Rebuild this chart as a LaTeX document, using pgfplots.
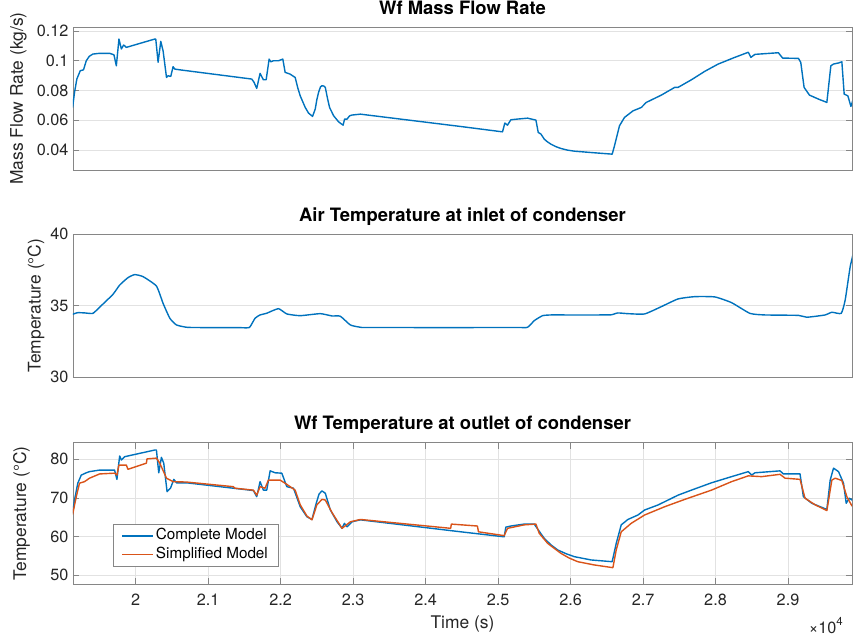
\documentclass[border=0pt]{standalone}
\usepackage{fontspec}
\setmainfont{TeX Gyre Heros}
\usepackage{pgfplots}
\pgfplotsset{compat=1.18}
\definecolor{mblue}{RGB}{0,114,189}
\definecolor{morange}{RGB}{217,83,25}
\definecolor{axgray}{RGB}{134,134,134}
\definecolor{gridgray}{RGB}{226,226,226}
\definecolor{tickcol}{RGB}{38,38,38}
\newcommand{\tickfont}{\fontsize{16.3}{19}\selectfont}
\newcommand{\labfont}{\fontsize{17.5}{20}\selectfont}
\newcommand{\titfont}{\fontsize{18.5}{21}\selectfont\bfseries}
\newcommand{\legfont}{\fontsize{15.3}{18}\selectfont}
\pgfplotsset{
  mystyle/.style={
    width=779bp, scale only axis,
    xmin=19135, xmax=29883,
    scaled x ticks=false, scaled y ticks=false,
    axis line style={draw=axgray, line width=0.6bp},
    tick style={draw=axgray, line width=0.6bp},
    major tick length=6bp,
    tick align=inside,
    grid style={draw=gridgray, line width=0.6bp},
    ticklabel style={font=\tickfont, text=tickcol},
    /pgf/number format/assume math mode=true,
    title style={font=\titfont, at={(0.5,1)}, anchor=base, yshift=7bp, text=black},
    label style={font=\labfont, text=tickcol},
    yticklabel style={xshift=-1bp},
    every axis plot/.append style={line width=1.4bp, line join=round},
  }
}
\begin{document}
\begin{tikzpicture}
\useasboundingbox (-73bp,-52.7bp) rectangle (780bp,584.3bp);
% ---------- plot 1
\begin{axis}[mystyle, at={(0bp,414.3bp)}, anchor=south west, height=142.7bp,
  ymin=0.02655, ymax=0.1225,
  xtick=\empty,
  ytick={0.04,0.06,0.08,0.1,0.12}, yticklabels={0.04,0.06,0.08,0.1,0.12},
  ymajorgrids,
  title={Wf Mass Flow Rate},
  ylabel={Mass Flow Rate (kg/s)},
  ylabel style={at={(axis description cs:-0.070,0.5)}, anchor=center},
]
\addplot[mblue] coordinates {
(19130,0.0686)(19156,0.0787)(19188,0.0877)(19235,0.0933)(19280,0.0939)(19318,0.1000)(19360,0.1030)(19409,0.1045)(19500,0.1050)(19640,0.1050)(19700,0.1040)(19733,0.0966)(19769,0.1146)(19802,0.1079)(19834,0.1106)(19871,0.1090)(20263,0.1146)(20277,0.1146)(20309,0.0990)(20346,0.1130)(20378,0.1067)(20425,0.0888)(20447,0.0899)(20484,0.0895)(20516,0.0960)(20540,0.0944)(20609,0.0939)(21601,0.0877)(21633,0.0855)(21670,0.0814)(21716,0.0915)(21762,0.0872)(21800,0.0872)(21841,0.1011)(21864,0.0993)(21900,0.1000)(21969,0.1000)(22030,0.1011)(22062,0.0922)(22131,0.0910)(22200,0.0888)(22235,0.0820)(22270,0.0764)(22339,0.0686)(22385,0.0648)(22440,0.0626)(22477,0.0675)(22500,0.0740)(22523,0.0787)(22550,0.0825)(22570,0.0832)(22595,0.0830)(22616,0.0821)(22645,0.0750)(22675,0.0686)(22731,0.0630)(22800,0.0589)(22861,0.0567)(22883,0.0608)(22916,0.0608)(22952,0.0630)(22985,0.0635)(23100,0.0641)(24484,0.0558)(25061,0.0522)(25093,0.0581)(25130,0.0567)(25176,0.0603)(25269,0.0608)(25407,0.0614)(25522,0.0601)(25554,0.0518)(25591,0.0507)(25637,0.0473)(25680,0.0455)(25730,0.0439)(25800,0.0422)(25868,0.0410)(25960,0.0399)(26053,0.0392)(26283,0.0383)(26574,0.0372)(26606,0.0428)(26675,0.0563)(26744,0.0619)(26861,0.0663)(26976,0.0686)(27045,0.0720)(27252,0.0769)(27437,0.0821)(27483,0.0821)(27667,0.0872)(27852,0.0929)(28037,0.0978)(28267,0.1023)(28452,0.1057)(28488,0.1023)(28544,0.1043)(28867,0.1054)(28926,0.1018)(29144,0.1016)(29176,0.0989)(29222,0.0821)(29296,0.0769)(29421,0.0742)(29536,0.0720)(29591,0.0966)(29628,0.0978)(29697,0.0985)(29743,0.0993)(29775,0.0776)(29826,0.0764)(29868,0.0693)(29914,0.0764)
};
\end{axis}
% ---------- plot 2
\begin{axis}[mystyle, at={(0bp,207bp)}, anchor=south west, height=143bp,
  ymin=30, ymax=40,
  xtick=\empty,
  ytick={30,35,40},
  ymajorgrids,
  title={Air Temperature at inlet of condenser},
  ylabel={Temperature (°C)},
  ylabel style={at={(axis description cs:-0.0475,0.5)}, anchor=center},
]
\addplot[mblue, smooth, tension=0.3] coordinates {
(19130,34.41)(19201,34.52)(19300,34.50)(19409,34.47)(19502,34.9)(19686,35.8)(19779,36.45)(19894,36.97)(19986,37.18)(20101,37.04)(20286,36.38)(20378,35.17)(20471,34.13)(20563,33.66)(20701,33.5)(20850,33.48)(21450,33.47)(21568,33.48)(21647,34.13)(21716,34.36)(21808,34.48)(21969,34.8)(22085,34.43)(22270,34.31)(22546,34.45)(22708,34.29)(22823,34.27)(22962,33.66)(23100,33.5)(23250,33.48)(25250,33.48)(25407,33.5)(25499,33.96)(25614,34.31)(25730,34.36)(25900,34.36)(26400,34.36)(26560,34.37)(26652,34.5)(26791,34.45)(27021,34.43)(27252,34.94)(27483,35.48)(27713,35.64)(27990,35.62)(28221,35.22)(28475,34.47)(28682,34.36)(29144,34.33)(29259,34.2)(29513,34.36)(29605,34.55)(29734,34.47)(29789,35.41)(29858,37.73)(29918,39.02)
};
\end{axis}
% ---------- plot 3
\begin{axis}[mystyle, name=ax3, at={(0bp,0bp)}, anchor=south west, height=141.6bp,
  ymin=47.59, ymax=84.3,
  xtick={20000,21000,22000,23000,24000,25000,26000,27000,28000,29000},
  xticklabels={2,2.1,2.2,2.3,2.4,2.5,2.6,2.7,2.8,2.9},
  xticklabel style={yshift=-6bp},
  ytick={50,60,70,80},
  xmajorgrids, ymajorgrids,
  title={Wf Temperature at outlet of condenser},
  xlabel={Time (s)},
  xlabel style={at={(axis description cs:0.5,0)}, anchor=base, yshift=-43.7bp},
  ylabel={Temperature (°C)},
  ylabel style={at={(axis description cs:-0.0661,0.5)}, anchor=center},
  legend style={at={(0.0517,0.124)}, anchor=south west, draw=axgray, fill=white,
    line width=0.6bp, inner xsep=8bp, inner ysep=2.5bp, row sep=0bp,
    nodes={inner sep=2bp, text height=11bp, text depth=3.5bp},
    font=\legfont, text=black},
  legend cell align=left,
  legend image code/.code={\draw[#1, line width=1.4bp] (0bp,0bp) -- (31bp,0bp);},
]
\addplot[mblue] coordinates {
(19130,66.0)(19156,69.45)(19201,73.8)(19249,75.9)(19318,76.5)(19363,76.8)(19502,77.2)(19709,77.2)(19741,74.8)(19779,80.86)(19802,79.8)(19848,80.67)(20263,82.4)(20286,82.4)(20318,76.5)(20355,80.5)(20387,79.0)(20433,71.6)(20480,72.5)(20526,74.8)(20563,73.9)(20701,73.9)(21624,71.9)(21670,70.3)(21716,74.2)(21762,72.0)(21808,72.0)(21855,77.0)(21924,76.5)(22016,76.4)(22085,72.9)(22177,72.5)(22270,67.7)(22362,65.1)(22432,64.4)(22491,68.6)(22530,71.0)(22570,71.8)(22616,71.2)(22685,66.9)(22778,63.8)(22847,62.1)(22879,63.4)(22916,62.5)(22985,63.8)(23100,64.3)(24484,61.2)(25084,59.9)(25107,62.4)(25176,62.7)(25361,63.2)(25499,63.2)(25554,61.7)(25637,59.5)(25730,57.8)(25822,56.5)(25940,55.5)(26053,54.75)(26283,53.9)(26574,53.45)(26630,58.2)(26699,63.0)(26791,64.4)(26929,65.55)(27021,66.85)(27206,68.15)(27483,70.7)(27667,72.0)(27944,73.9)(28221,75.5)(28452,76.8)(28498,75.9)(28544,76.5)(28890,77.0)(28936,76.2)(29166,76.2)(29212,70.3)(29328,68.6)(29536,67.0)(29582,74.6)(29628,77.7)(29697,76.8)(29766,73.8)(29803,68.6)(29845,69.9)(29882,69.45)(29914,70.3)
};
\addlegendentry{Complete Model}
\addplot[morange] coordinates {
(19130,65.7)(19180,70.3)(19225,73.8)(19294,74.2)(19363,75.1)(19502,76.2)(19709,76.4)(19741,75.9)(19769,78.5)(19871,78.5)(19893,77.4)(20148,79.0)(20156,80.1)(20286,80.3)(20332,79.0)(20425,75.1)(20516,74.2)(20701,74.1)(21347,72.9)(21370,72.5)(21624,72.0)(21670,70.7)(21716,72.9)(21785,72.5)(21831,74.6)(21993,74.6)(22085,73.5)(22200,72.0)(22270,68.2)(22362,65.3)(22432,64.3)(22500,68.2)(22570,69.6)(22616,69.45)(22708,66.2)(22847,62.1)(22962,63.8)(23100,64.4)(24346,62.1)(24355,63.2)(24715,62.7)(24729,61.2)(25084,60.2)(25130,62.1)(25361,63.0)(25522,63.2)(25568,60.8)(25684,58.2)(25868,55.6)(25980,54.4)(26099,53.45)(26329,52.6)(26584,51.9)(26630,56.5)(26699,61.2)(26837,63.4)(27021,65.55)(27298,67.7)(27575,69.6)(27944,72.0)(28221,74.2)(28452,75.7)(28636,75.5)(28890,76.1)(28959,75.1)(29166,74.8)(29235,69.9)(29374,68.2)(29536,66.7)(29605,74.6)(29651,75.1)(29743,74.5)(29812,70.3)(29882,67.9)(29914,68.1)
};
\addlegendentry{Simplified Model}
\end{axis}
\node[anchor=base east, inner sep=0pt, font=\tickfont, text=tickcol] at ([xshift=-9bp, yshift=-48.7bp]ax3.south east) {×10\raisebox{0.85ex}{\fontsize{11.5}{12}\selectfont 4}};
\end{tikzpicture}
\end{document}
